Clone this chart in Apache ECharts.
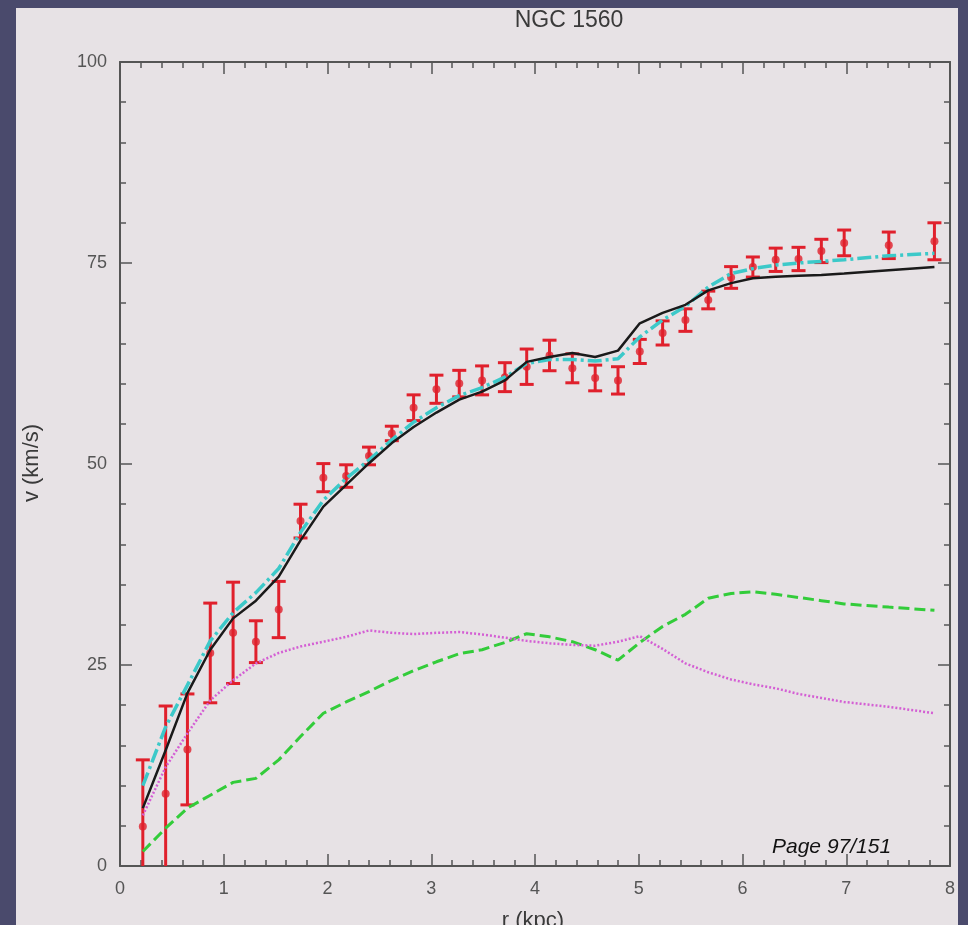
<!DOCTYPE html>
<html>
<head>
<meta charset="utf-8">
<script src="https://cdn.jsdelivr.net/npm/echarts@6/dist/echarts.min.js"></script>
<style>
    html, body { margin: 0; padding: 0; }
    body { width: 968px; height: 925px; background: #4a4a6c; position: relative; overflow: hidden; }
    #panel { position: absolute; left: 16px; top: 8px; width: 942px; height: 917px; background: #e7e2e5; }
    #chart { position: absolute; left: 0; top: 0; width: 968px; height: 925px; }
</style>
</head>
<body>
<div id="panel"></div>
<div id="chart"></div>
<script>
// 半径 (kpc)，观测点与模型曲线共用
var r = [0.22, 0.44, 0.65, 0.87, 1.09, 1.31, 1.53, 1.74, 1.96, 2.18, 2.40, 2.62, 2.83, 3.05, 3.27, 3.49, 3.71,
    3.92, 4.14, 4.36, 4.58, 4.80, 5.01, 5.23, 5.45, 5.67, 5.89, 6.10, 6.32, 6.54, 6.76, 6.98, 7.41, 7.85];
// 观测速度和误差
var vObs = [4.9, 9.0, 14.5, 26.5, 29.0, 27.9, 31.9, 42.9, 48.3, 48.5, 51.0, 53.8, 57.0, 59.3, 60.0, 60.4, 60.8,
    62.1, 63.5, 61.9, 60.7, 60.4, 64.0, 66.3, 67.9, 70.4, 73.2, 74.5, 75.4, 75.5, 76.5, 77.5, 77.2, 77.7];
var vErr = [8.3, 10.9, 6.9, 6.2, 6.3, 2.6, 3.5, 2.1, 1.75, 1.4, 1.1, 0.9, 1.6, 1.75, 1.65, 1.8, 1.8,
    2.2, 1.9, 1.8, 1.6, 1.7, 1.5, 1.5, 1.4, 1.1, 1.35, 1.25, 1.45, 1.45, 1.45, 1.6, 1.65, 2.3];
// 模型曲线
var vTotal = [7.2, 14.4, 21.5, 26.9, 30.8, 33.0, 36.0, 40.5, 44.7, 47.4, 50.1, 52.6, 54.6, 56.4, 58.0, 59.0, 60.4,
    62.7, 63.3, 63.8, 63.3, 64.1, 67.5, 68.8, 69.8, 71.6, 72.5, 73.1, 73.3, 73.4, 73.5, 73.7, 74.1, 74.5];
var vFit = [10.0, 17.3, 22.5, 28.0, 31.5, 34.0, 37.0, 41.5, 45.5, 48.2, 50.5, 53.0, 55.2, 57.0, 58.5, 59.5, 60.8,
    62.5, 63.0, 63.0, 62.8, 63.1, 65.8, 67.9, 69.6, 72.0, 73.7, 74.3, 74.75, 75.0, 75.2, 75.4, 75.9, 76.2];
var vDisk = [6.3, 12.3, 16.5, 20.6, 23.1, 25.2, 26.5, 27.3, 27.9, 28.5, 29.3, 29.0, 28.85, 29.0, 29.1, 28.8, 28.4,
    28.0, 27.7, 27.5, 27.4, 27.9, 28.6, 27.0, 25.2, 24.1, 23.2, 22.6, 22.1, 21.4, 20.9, 20.4, 19.8, 19.0];
var vGas = [1.8, 4.7, 7.2, 8.8, 10.4, 10.9, 13.2, 16.1, 19.0, 20.4, 21.7, 23.1, 24.3, 25.4, 26.4, 26.9, 27.8,
    28.9, 28.5, 27.9, 26.9, 25.6, 27.8, 29.8, 31.3, 33.3, 33.9, 34.1, 33.8, 33.4, 33.0, 32.6, 32.2, 31.8];
var xTicks = ["0", "1", "2", "3", "4", "5", "6", "7", "8"];
var yTicks = ["0", "25", "50", "75", "100"];

var fontFamily = "Liberation Sans";
var RED = "#e0202c";

function pairs(xs, ys) {
    return xs.map(function (x, i) { return [x, ys[i]]; });
}

function axisBase(pos, showLabel) {
    return {
        type: "value",
        position: pos,
        splitLine: { show: false },
        axisLine: { show: true, onZero: false, lineStyle: { color: "#555", width: 2 } },
        axisTick: { show: true, inside: true, length: 12, lineStyle: { color: "#555", width: 1.5 } },
        minorTick: { show: true, splitNumber: 5, length: 6, lineStyle: { color: "#555", width: 1.5 } },
        axisLabel: { show: showLabel, color: "#555", fontSize: 18, fontFamily: fontFamily }
    };
}

var xa = axisBase("bottom", true);
xa.min = 0; xa.max = 8; xa.interval = 1; xa.axisLabel.margin = 14;
xa.axisLabel.formatter = function (v) { return xTicks[Math.round(v)]; };
var xb = axisBase("top", false);
xb.min = 0; xb.max = 8; xb.interval = 1;
var ya = axisBase("left", true);
ya.min = 0; ya.max = 100; ya.interval = 25; ya.axisLabel.margin = 13;
ya.axisLabel.formatter = function (v) { return yTicks[Math.round(v / 25)]; };
var yb = axisBase("right", false);
yb.min = 0; yb.max = 100; yb.interval = 25;

// 误差棒
function renderErr(params, api) {
    var x = api.value(0), lo = api.value(1), hi = api.value(2);
    var a = api.coord([x, lo]), b = api.coord([x, hi]);
    var w = 7;
    var st = { stroke: RED, lineWidth: 3 };
    return {
        type: "group",
        children: [
            { type: "line", shape: { x1: a[0], y1: a[1], x2: b[0], y2: b[1] }, style: st },
            { type: "line", shape: { x1: a[0] - w, y1: a[1], x2: a[0] + w, y2: a[1] }, style: st },
            { type: "line", shape: { x1: b[0] - w, y1: b[1], x2: b[0] + w, y2: b[1] }, style: st }
        ]
    };
}

var chart = echarts.init(document.getElementById("chart"));
var option = {
    backgroundColor: "transparent",
    animation: false,
    grid: { left: 120, right: 18, top: 62, bottom: 59 },
    xAxis: [xa, xb],
    yAxis: [ya, yb],
    graphic: [
        { type: "text", x: 569, y: 21, style: { text: "NGC 1560", fontSize: 23, fill: "#3a3a3a", fontFamily: fontFamily, textAlign: "center", textVerticalAlign: "middle" } },
        { type: "text", x: 533, y: 921, style: { text: "r (kpc)", fontSize: 22, fill: "#3a3a3a", fontFamily: fontFamily, textAlign: "center", textVerticalAlign: "middle" } },
        { type: "text", x: 32, y: 463, rotation: Math.PI / 2, style: { text: "v (km/s)", fontSize: 22, fill: "#3a3a3a", fontFamily: fontFamily, textAlign: "center", textVerticalAlign: "middle" } },
        { type: "text", left: 772, top: 837, style: { text: "Page 97/151", fontSize: 21, fontStyle: "italic", fill: "#111", fontFamily: fontFamily } }
    ],
    series: [
        { type: "line", data: pairs(r, vGas), symbol: "none", lineStyle: { color: "#33cc3a", width: 3, type: [11, 5] } },
        { type: "line", data: pairs(r, vDisk), symbol: "none", lineStyle: { color: "#d45fd4", width: 2.5, type: [2, 2] } },
        { type: "line", data: pairs(r, vFit), symbol: "none", lineStyle: { color: "#3cc9c9", width: 3.5, type: [14, 4, 3, 4] } },
        { type: "line", data: pairs(r, vTotal), symbol: "none", lineStyle: { color: "#1a1a1a", width: 2.5 } },
        {
            type: "custom", renderItem: renderErr, clip: true,
            data: r.map(function (x, i) { return [x, vObs[i] - vErr[i], vObs[i] + vErr[i]]; })
        },
        { type: "scatter", data: pairs(r, vObs), symbol: "circle", symbolSize: 8, itemStyle: { color: RED } }
    ]
};
chart.setOption(option);
</script>
</body>
</html>
